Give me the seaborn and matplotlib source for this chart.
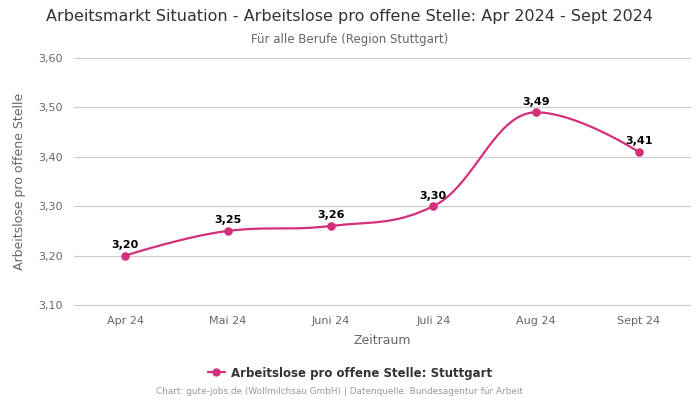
import numpy as np
import pandas as pd
import matplotlib
matplotlib.use("Agg")
import matplotlib.pyplot as plt
import seaborn as sns

# === Data ===
months = ["Apr 24", "Mai 24", "Juni 24", "Juli 24", "Aug 24", "Sept 24"]
values = [3.20, 3.25, 3.26, 3.30, 3.49, 3.41]
series_name = "Arbeitslose pro offene Stelle: Stuttgart"

df = pd.DataFrame({"Zeitraum": months, "Wert": values})
df["pos"] = range(len(df))

color = "#d3307c"


def spline_path(xs, ys, smoothing=1.5, steps=40):
    # smooth path through the points, bezier control points like a "spline" series
    xs = np.asarray(xs, float)
    ys = np.asarray(ys, float)
    n = len(xs)
    left = [(xs[i], ys[i]) for i in range(n)]
    right = [(xs[i], ys[i]) for i in range(n)]
    d = smoothing + 1
    for i in range(1, n - 1):
        lx = (smoothing * xs[i] + xs[i - 1]) / d
        ly = (smoothing * ys[i] + ys[i - 1]) / d
        rx = (smoothing * xs[i] + xs[i + 1]) / d
        ry = (smoothing * ys[i] + ys[i + 1]) / d
        corr = (ry - ly) * (rx - xs[i]) / (rx - lx) + ys[i] - ry
        ly += corr
        ry += corr
        if ly > max(ys[i - 1], ys[i]):
            ly = max(ys[i - 1], ys[i]); ry = 2 * ys[i] - ly
        elif ly < min(ys[i - 1], ys[i]):
            ly = min(ys[i - 1], ys[i]); ry = 2 * ys[i] - ly
        if ry > max(ys[i + 1], ys[i]):
            ry = max(ys[i + 1], ys[i]); ly = 2 * ys[i] - ry
        elif ry < min(ys[i + 1], ys[i]):
            ry = min(ys[i + 1], ys[i]); ly = 2 * ys[i] - ry
        left[i] = (lx, ly)
        right[i] = (rx, ry)
    px, py = [], []
    t = np.linspace(0, 1, steps)
    for i in range(n - 1):
        p0 = np.array([xs[i], ys[i]])
        p1 = np.array(right[i])
        p2 = np.array(left[i + 1])
        p3 = np.array([xs[i + 1], ys[i + 1]])
        pts = ((1 - t) ** 3)[:, None] * p0 + (3 * (1 - t) ** 2 * t)[:, None] * p1 \
            + (3 * (1 - t) * t ** 2)[:, None] * p2 + (t ** 3)[:, None] * p3
        px.extend(pts[:, 0]); py.extend(pts[:, 1])
    return np.array(px), np.array(py)


sns.set_style("white")
plt.rcParams["font.family"] = ["DejaVu Sans"]

fig = plt.figure(figsize=(7, 4), dpi=100)
ax = fig.add_axes([74 / 700, 1 - 305 / 400, 616 / 700, 247 / 400])

sx, sy = spline_path(df["pos"], df["Wert"])
sns.lineplot(x=sx, y=sy, ax=ax, color=color, linewidth=1.6, sort=False, estimator=None)
sns.scatterplot(data=df, x="pos", y="Wert", ax=ax, color=color, s=38,
                edgecolor=color, linewidth=0, zorder=5)

for _, r in df.iterrows():
    ax.annotate(f"{r['Wert']:.2f}".replace(".", ","), (r["pos"], r["Wert"]),
                xytext=(0, 4), textcoords="offset points", ha="center", va="bottom",
                fontsize=8, fontweight="bold", color="black")

ax.set_xlim(-0.5, len(months) - 0.5)
ax.set_ylim(3.10, 3.60)
ax.set_xticks(df["pos"])
ax.set_xticklabels(months)
yt = [3.10, 3.20, 3.30, 3.40, 3.50, 3.60]
ax.set_yticks(yt)
ax.set_yticklabels([f"{v:.2f}".replace(".", ",") for v in yt])
ax.tick_params(axis="both", length=0, labelsize=8, labelcolor="#666666", pad=8)
ax.grid(axis="y", color="#cccccc", linewidth=0.8)
ax.grid(axis="x", visible=False)
for gl in ax.get_ygridlines():
    gl.set_clip_on(False)
for s in ax.spines.values():
    s.set_visible(False)

ax.set_xlabel("Zeitraum", fontsize=9, color="#666666", labelpad=6)
ax.set_ylabel("Arbeitslose pro offene Stelle", fontsize=9, color="#666666", labelpad=9)

fig.text(0.5, 1 - 17 / 400, "Arbeitsmarkt Situation - Arbeitslose pro offene Stelle: Apr 2024 - Sept 2024",
         ha="center", va="center", fontsize=11.5, color="#333333")
fig.text(0.5, 1 - 39 / 400, "Für alle Berufe (Region Stuttgart)",
         ha="center", va="center", fontsize=8.5, color="#666666")

handle = plt.Line2D([], [], color=color, marker="o", markersize=5, linewidth=1.6)
fig.legend([handle], [series_name], loc="center", bbox_to_anchor=(0.5, 1 - 373 / 400),
           frameon=False, prop={"size": 8.5, "weight": "bold"}, labelcolor="#333333",
           handlelength=1.5, handletextpad=0.5)

fig.text(340 / 700, 1 - 392 / 400, "Chart: gute-jobs.de (Wollmilchsau GmbH) | Datenquelle: Bundesagentur für Arbeit",
         ha="center", va="center", fontsize=6.4, color="#999999")

fig.savefig("out.png", dpi=100)
plt.close(fig)
